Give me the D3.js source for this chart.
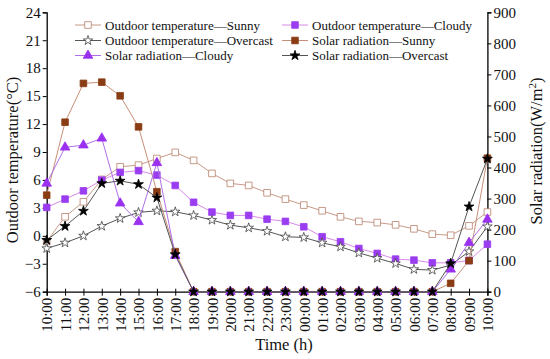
<!DOCTYPE html>
<html><head><meta charset="utf-8">
<script src="https://cdn.jsdelivr.net/npm/d3@7"></script>
<style>body{margin:0;background:#fff}svg{display:block}text{font-family:"Liberation Serif","Times New Roman",serif;fill:#111}</style>
</head><body><svg id="c" width="550" height="359"></svg>
<script>
const times = ["10:00","11:00","12:00","13:00","14:00","15:00","16:00","17:00","18:00","19:00","20:00","21:00","22:00","23:00","00:00","01:00","02:00","03:00","04:00","05:00","06:00","07:00","08:00","09:00","10:00"];
const tempSunny    = [-0.6,2.04,3.65,6.06,7.41,7.59,8.3,8.96,8.1,6.7,5.63,5.41,4.62,3.94,3.3,2.69,2.04,1.55,1.42,1.18,0.75,0.18,0.06,1.07,2.55];
const tempCloudy   = [3.05,3.94,4.83,5.98,6.81,7.0,6.52,5.41,3.6,2.55,2.19,2.19,1.79,1.55,0.97,-0.1,-0.64,-1.36,-1.89,-2.5,-2.61,-2.9,-2.9,-2.65,-0.9];
const tempOvercast = [-1.35,-0.75,0.0,1.04,1.87,2.51,2.69,2.58,2.19,1.69,1.15,0.86,0.5,-0.1,-0.17,-0.75,-1.18,-1.83,-2.4,-2.97,-3.6,-3.68,-3.15,-1.68,1.0];
const solarSunny    = [311,546,671,675,631,531,322,129,0,0,0,0,0,0,0,0,0,0,0,0,0,0,27,100,430];
const solarCloudy   = [349,465,472,494,285,225,415,116,0,0,0,0,0,0,0,0,0,0,0,0,0,0,72,158,233];
const solarOvercast = [166,211,260,349,357,346,303,120,0,0,0,0,0,0,0,0,0,0,0,0,0,0,91,274,428];
const tempTicks = [-6,-3,0,3,6,9,12,15,18,21,24];
const solarTicks = [0,100,200,300,400,500,600,700,800,900];

const svg = d3.select("#c");
const L = 46.7, R = 487.4, T = 12.3, B = 291.7;
const x = d3.scalePoint().domain(d3.range(times.length)).range([L, R]);
const yT = d3.scaleLinear().domain([-6, 24]).range([B, T]);
const yS = d3.scaleLinear().domain([0, 900]).range([B, T]);

const series = [
  {name:"Outdoor temperature\u2014Sunny", data:tempSunny, y:yT, line:"#c99a88", sym:d3.symbolSquare, size:44, fill:"#fff", stroke:"#b8806c"},
  {name:"Outdoor temperature\u2014Cloudy", data:tempCloudy, y:yT, line:"#d88ae8", sym:d3.symbolSquare, size:44, fill:"#9a3cf0", stroke:"#9a3cf0"},
  {name:"Outdoor temperature\u2014Overcast", data:tempOvercast, y:yT, line:"#555", sym:d3.symbolStar, size:28, fill:"#fff", stroke:"#444"},
  {name:"Solar radiation\u2014Sunny", data:solarSunny, y:yS, line:"#c8907a", sym:d3.symbolSquare, size:44, fill:"#8a3c14", stroke:"#8a3c14"},
  {name:"Solar radiation\u2014Cloudy", data:solarCloudy, y:yS, line:"#b070e8", sym:d3.symbolTriangle, size:40, fill:"#9a30f0", stroke:"#9a30f0"},
  {name:"Solar radiation\u2014Overcast", data:solarOvercast, y:yS, line:"#555", sym:d3.symbolStar, size:30, fill:"#000", stroke:"#000"}
];

// axes
const gL = svg.append("g").attr("transform",`translate(${L},0)`)
  .call(d3.axisLeft(yT).tickValues(tempTicks).tickSize(4).tickFormat(d => d < 0 ? "\u2212" + Math.abs(d) : d));
const gR = svg.append("g").attr("transform",`translate(${R},0)`)
  .call(d3.axisRight(yS).tickValues(solarTicks).tickSize(4));
const gB = svg.append("g").attr("transform",`translate(0,${B})`)
  .call(d3.axisBottom(x).tickSize(4).tickFormat(i => times[i]));
[gL,gR,gB].forEach(g => {
  g.select(".domain").attr("stroke","#000").attr("stroke-width",1.3);
  g.selectAll(".tick line").attr("stroke","#000").attr("stroke-width",1);
  g.selectAll("text").style("font-family","Liberation Serif").style("font-size","15px").attr("fill","#111");
});
gL.selectAll(".tick text").attr("x",-6);
gR.selectAll(".tick text").attr("x",6);
gB.selectAll(".tick line").attr("y1",-3);
gB.selectAll(".tick text").attr("transform","rotate(-90)").attr("text-anchor","end")
  .attr("x",-6).attr("y",0).attr("dy","0.35em");

// series
series.forEach(s => {
  const line = d3.line().x((d,i)=>x(i)).y(d=>s.y(d));
  svg.append("path").attr("d",line(s.data)).attr("fill","none").attr("stroke",s.line).attr("stroke-width",1);
  svg.append("g").selectAll("path").data(s.data).join("path")
    .attr("d", d3.symbol().type(s.sym).size(s.size))
    .attr("transform",(d,i)=>`translate(${x(i)},${s.y(d)})`)
    .attr("fill",s.fill).attr("stroke",s.stroke).attr("stroke-width",0.8);
});

// legend
const legRows = [25, 40.5, 55.5];
const legCols = [75, 282];
series.forEach((s,k) => {
  const cx = legCols[k % 2], cy = legRows[Math.floor(k/2)];
  const g = svg.append("g");
  g.append("line").attr("x1",cx).attr("x2",cx+26).attr("y1",cy).attr("y2",cy).attr("stroke",s.line).attr("stroke-width",1);
  g.append("path").attr("d",d3.symbol().type(s.sym).size(s.size)()).attr("transform",`translate(${cx+13},${cy})`)
    .attr("fill",s.fill).attr("stroke",s.stroke).attr("stroke-width",0.8);
  g.append("text").attr("x",cx+30).attr("y",cy+4.5).style("font-size","13px").text(s.name);
});

// titles
svg.append("text").attr("x",284).attr("y",350).attr("text-anchor","middle").style("font-size","16.5px").text("Time (h)");
svg.append("text").attr("transform","translate(18,160) rotate(-90)").attr("text-anchor","middle").style("font-size","16.5px").text("Outdoor temperature(\u00B0C)");
const rt = svg.append("text").attr("transform","translate(542,151) rotate(-90)").attr("text-anchor","middle").style("font-size","16.5px");
rt.append("tspan").text("Solar radiation(W/m");
rt.append("tspan").attr("dy","-6").style("font-size","11px").text("2");
rt.append("tspan").attr("dy","6").text(")");
</script></body></html>
